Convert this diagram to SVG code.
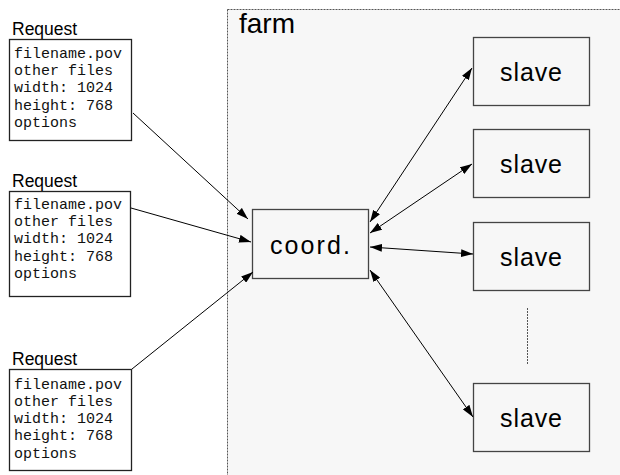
<svg xmlns="http://www.w3.org/2000/svg" width="620" height="475" viewBox="0 0 620 475">
  <style>
    .farm { fill: #f7f7f7; stroke: #555; stroke-width: 1; stroke-dasharray: 2 1; }
    .box { fill: #f7f7f7; stroke: #444; stroke-width: 1.3; }
    .req { fill: #ffffff; stroke: #222; stroke-width: 1.3; }
    .big { font-family: "Liberation Sans", Arial, sans-serif; font-size: 25px; fill: #000; text-anchor: middle; }
    .title { font-family: "Liberation Sans", Arial, sans-serif; font-size: 28px; fill: #000; }
    .label { font-family: "Liberation Sans", Arial, sans-serif; font-size: 17.5px; fill: #000; }
    .mono { font-family: "Liberation Mono", "Courier New", monospace; font-size: 15px; fill: #111; }
    .wire { stroke: #000; stroke-width: 1; fill: none; }
    .dots { stroke: #555; stroke-width: 1; stroke-dasharray: 2 1; }
  </style>
  <defs>
    <marker id="head" viewBox="0 0 12 8" refX="12" refY="4" markerWidth="12" markerHeight="8" markerUnits="userSpaceOnUse" orient="auto-start-reverse">
      <path d="M0,0 L12,4 L0,8 Z" fill="#000"/>
    </marker>
  </defs>

  <!-- farm area -->
  <g id="farm">
    <rect class="farm" x="227.5" y="9.5" width="400" height="480"/>
    <text class="title" x="239" y="33">farm</text>
  </g>

  <!-- requests -->
  <g id="request1">
    <text class="label" x="12" y="35">Request</text>
    <rect class="req" x="9.5" y="39.5" width="122" height="101"/>
    <text class="mono" x="14" y="58">filename.pov</text>
    <text class="mono" x="14" y="75">other files</text>
    <text class="mono" x="14" y="92">width: 1024</text>
    <text class="mono" x="14" y="110">height: 768</text>
    <text class="mono" x="14" y="127">options</text>
  </g>
  <g id="request2">
    <text class="label" x="12" y="187">Request</text>
    <rect class="req" x="9.5" y="191.5" width="121" height="105"/>
    <text class="mono" x="14" y="209">filename.pov</text>
    <text class="mono" x="14" y="226">other files</text>
    <text class="mono" x="14" y="243">width: 1024</text>
    <text class="mono" x="14" y="261">height: 768</text>
    <text class="mono" x="14" y="278">options</text>
  </g>
  <g id="request3">
    <text class="label" x="12" y="365">Request</text>
    <rect class="req" x="9.5" y="369.5" width="122" height="101"/>
    <text class="mono" x="14" y="389">filename.pov</text>
    <text class="mono" x="14" y="406">other files</text>
    <text class="mono" x="14" y="423">width: 1024</text>
    <text class="mono" x="14" y="440">height: 768</text>
    <text class="mono" x="14" y="458">options</text>
  </g>

  <!-- coordinator -->
  <g id="coord">
    <rect class="box" x="252.5" y="209.5" width="116" height="69"/>
    <text class="big" x="310" y="254" textLength="80">coord.</text>
  </g>

  <!-- slaves -->
  <g id="slave1">
    <rect class="box" x="473.5" y="37.5" width="116" height="68"/>
    <text class="big" x="531" y="81" textLength="62">slave</text>
  </g>
  <g id="slave2">
    <rect class="box" x="473.5" y="129.5" width="116" height="68"/>
    <text class="big" x="531" y="173" textLength="62">slave</text>
  </g>
  <g id="slave3">
    <rect class="box" x="473.5" y="222.5" width="116" height="68"/>
    <text class="big" x="531" y="266" textLength="62">slave</text>
  </g>
  <g id="slave4">
    <rect class="box" x="473.5" y="383.5" width="116" height="68"/>
    <text class="big" x="531" y="427" textLength="62">slave</text>
  </g>

  <!-- connectors -->
  <g id="connectors">
    <line class="wire" x1="133" y1="113" x2="248" y2="219" marker-end="url(#head)"/>
    <line class="wire" x1="131" y1="208" x2="251" y2="242" marker-end="url(#head)"/>
    <line class="wire" x1="132" y1="369" x2="253" y2="272" marker-end="url(#head)"/>
    <line class="wire" x1="370" y1="222" x2="472" y2="68" marker-start="url(#head)" marker-end="url(#head)"/>
    <line class="wire" x1="370" y1="233" x2="472" y2="164" marker-start="url(#head)" marker-end="url(#head)"/>
    <line class="wire" x1="370" y1="247" x2="473" y2="254" marker-start="url(#head)" marker-end="url(#head)"/>
    <line class="wire" x1="370" y1="270" x2="473" y2="417" marker-start="url(#head)" marker-end="url(#head)"/>
    <line class="dots" x1="527.5" y1="308" x2="527.5" y2="365"/>
  </g>
</svg>
